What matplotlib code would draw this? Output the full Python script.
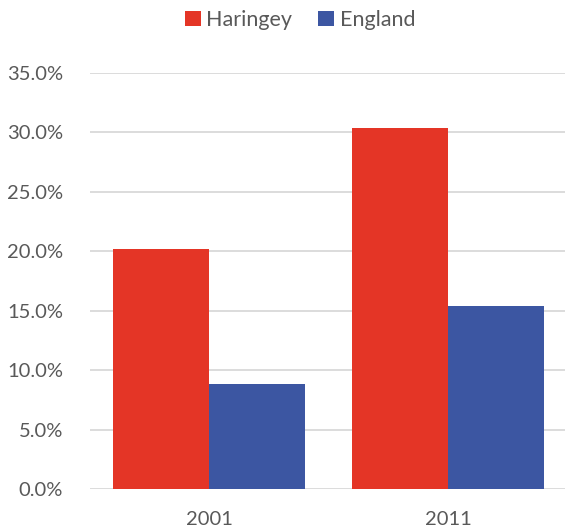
import numpy as np
import matplotlib
matplotlib.use('Agg')
import matplotlib.pyplot as plt
from matplotlib.ticker import FuncFormatter

# data
years = ['2001', '2011']
haringey = [20.2, 30.4]
england = [8.8, 15.4]
yticks = [0, 5, 10, 15, 20, 25, 30, 35]

plt.rcParams['font.family'] = ['Lato', 'DejaVu Sans']

fig = plt.figure(figsize=(5.65, 5.29), dpi=100)
ax = fig.add_axes([89.5 / 565, 1 - 489 / 529, (567.5 - 89.5) / 565, (489 - 73) / 529])

x = np.arange(len(years))
w = 0.4
ax.bar(x - w / 2, haringey, w, color='#E43526', label='Haringey', zorder=3)
ax.bar(x + w / 2, england, w, color='#3C56A2', label='England', zorder=3)

ax.set_xlim(-0.5, 1.5)
ax.set_ylim(0, 35)
ax.set_yticks(yticks)
ax.yaxis.set_major_formatter(FuncFormatter(lambda v, p: f"{v:.1f}%"))
ax.set_xticks(x)
ax.set_xticklabels(years)
ax.grid(axis='y', color='#D9D9D9', linewidth=1.3, zorder=0)
ax.set_axisbelow(True)
for s in ax.spines.values():
    s.set_visible(False)
ax.tick_params(axis='both', length=0, labelsize=14.5, colors='#595959')
ax.tick_params(axis='y', pad=19)
ax.tick_params(axis='x', pad=16)

fig.legend(loc='center', bbox_to_anchor=(300 / 565, 1 - 20 / 529), ncol=2,
           frameon=False, fontsize=15.5, handlelength=0.75, handleheight=0.75,
           handletextpad=0.25, columnspacing=1.2, labelcolor='#595959')

fig.savefig('out.png', dpi=100)
